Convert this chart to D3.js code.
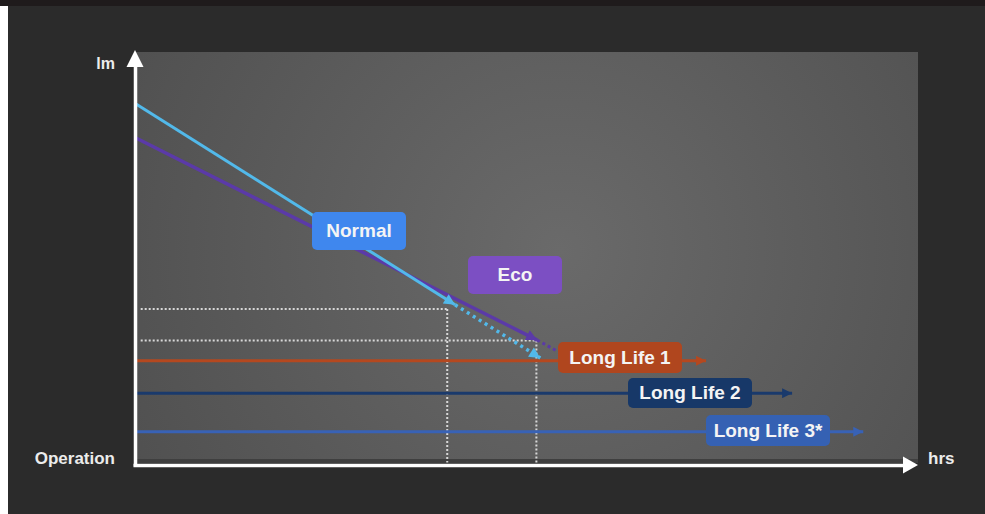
<!DOCTYPE html>
<html><head><meta charset="utf-8">
<script src="https://cdn.jsdelivr.net/npm/d3@7"></script>
<style>
html,body{margin:0;padding:0;background:#2b2b2b;overflow:hidden;}
svg{display:block;}
</style></head>
<body>
<svg id="c" width="985" height="514"></svg>
<script>
// ---- data (arbitrary units: hrs on x, lm on y) ----
const seriesNames = ["Normal", "Eco", "Long Life 1", "Long Life 2", "Long Life 3*"];
const normalSolid = [[0, 87.0], [40.8, 38.6]];
const normalDotted = [[40.8, 38.6], [51.7, 25.8]];
const ecoSolid = [[0, 78.8], [51.3, 30.1]];
const ecoDotted = [[51.3, 30.1], [53.8, 27.5]];
const longLifeLevels = [25.1, 17.3, 8.0];
const longLifeEnds = [72.9, 83.9, 93.0];
const guideX = [39.8, 51.2];
const guideY = [37.6, 30.0];
const axisLabels = {y: "lm", x: "hrs", origin: "Operation"};

// ---- layout ----
const W = 985, H = 514;
const svg = d3.select("#c");
const x = d3.scaleLinear().domain([0, 100]).range([136, 918]);
const y = d3.scaleLinear().domain([0, 100]).range([465, 50]);

const colors = {
  normal: "#52b9ea", eco: "#5b3aa8",
  ll: ["#b5481f", "#1a3a6c", "#3862b6"],
  box: ["#3f87ee", "#7c4fc3", "#b0461e", "#173868", "#3561b3"]
};

// background
svg.append("rect").attr("x", 0).attr("y", 0).attr("width", W).attr("height", H).attr("fill", "#2b2b2b");
svg.append("rect").attr("x", 0).attr("y", 6).attr("width", 8).attr("height", H - 6).attr("fill", "#ffffff");
svg.append("rect").attr("x", 0).attr("y", 0).attr("width", W).attr("height", 6).attr("fill", "#1f1b1c");

const defs = svg.append("defs");
const rg = defs.append("radialGradient").attr("id", "bg")
  .attr("gradientUnits", "userSpaceOnUse").attr("cx", 560).attr("cy", 250).attr("r", 520);
rg.append("stop").attr("offset", "0%").attr("stop-color", "#6a6a6a");
rg.append("stop").attr("offset", "60%").attr("stop-color", "#595959");
rg.append("stop").attr("offset", "100%").attr("stop-color", "#4e4e4e");

svg.append("rect").attr("x", 136).attr("y", 52).attr("width", 918 - 136).attr("height", 463 - 52)
  .attr("fill", "url(#bg)");
svg.append("rect").attr("x", 136).attr("y", 459).attr("width", 918 - 136).attr("height", 4)
  .attr("fill", "#3f3f3f");

// arrow markers
function marker(id, color, w, h) {
  defs.append("marker").attr("id", id).attr("viewBox", "0 0 10 10")
    .attr("refX", 10).attr("refY", 5).attr("markerUnits", "userSpaceOnUse")
    .attr("markerWidth", w).attr("markerHeight", h).attr("orient", "auto")
    .append("path").attr("d", "M0,0 L10,5 L0,10 Z").attr("fill", color);
}
marker("mN", colors.normal, 15, 11);
marker("mE", colors.eco, 15, 11);
colors.ll.forEach((c, i) => marker("mL" + i, c, 13, 10));

const line = d3.line().x(d => x(d[0])).y(d => y(d[1]));

// guide dotted lines
const g = svg.append("g");
guideX.forEach((gx, i) => {
  g.append("path").attr("d", line([[0.6, guideY[i]], [gx, guideY[i]]]))
    .attr("stroke", "#d8d8d8").attr("stroke-width", 2).attr("stroke-dasharray", "2,2").attr("fill", "none");
  g.append("path").attr("d", line([[gx, guideY[i]], [gx, 0.6]]))
    .attr("stroke", "#d8d8d8").attr("stroke-width", 2).attr("stroke-dasharray", "2,2").attr("fill", "none");
});

// long life lines
longLifeLevels.forEach((lv, i) => {
  svg.append("path").attr("d", line([[0, lv], [longLifeEnds[i], lv]]))
    .attr("stroke", colors.ll[i]).attr("stroke-width", 3).attr("fill", "none")
    .attr("marker-end", "url(#mL" + i + ")");
});

// eco
svg.append("path").attr("d", line(ecoSolid)).attr("stroke", colors.eco).attr("stroke-width", 3.5)
  .attr("fill", "none").attr("marker-end", "url(#mE)");
svg.append("path").attr("d", line(ecoDotted)).attr("stroke", colors.eco).attr("stroke-width", 3)
  .attr("stroke-dasharray", "3,3").attr("fill", "none");

// normal
svg.append("path").attr("d", line(normalSolid)).attr("stroke", colors.normal).attr("stroke-width", 3)
  .attr("fill", "none").attr("marker-end", "url(#mN)");
svg.append("path").attr("d", line(normalDotted)).attr("stroke", colors.normal).attr("stroke-width", 3.5)
  .attr("stroke-dasharray", "3,4").attr("fill", "none").attr("marker-end", "url(#mN)");

// label boxes (pixel layout)
const labelLayout = [
  {x0: 312, y0: 212, w: 94, h: 38},
  {x0: 468, y0: 256, w: 94, h: 38},
  {x0: 558, y0: 342, w: 124, h: 31},
  {x0: 628, y0: 378, w: 124, h: 30},
  {x0: 706, y0: 415, w: 124, h: 31}
];
seriesNames.forEach((name, i) => {
  const L = labelLayout[i];
  svg.append("rect").attr("x", L.x0).attr("y", L.y0).attr("width", L.w).attr("height", L.h)
    .attr("rx", 5).attr("fill", colors.box[i]);
  svg.append("text").attr("x", L.x0 + L.w / 2).attr("y", L.y0 + L.h / 2 + 1)
    .attr("text-anchor", "middle").attr("dominant-baseline", "middle")
    .attr("font-family", "Liberation Sans, Arial, sans-serif").attr("font-weight", "bold")
    .attr("font-size", 19).attr("fill", "#f4f4f4").text(name);
});

// axes
const xAxis = d3.axisBottom(x).tickValues([]).tickSizeOuter(0);
const yAxis = d3.axisLeft(y).tickValues([]).tickSizeOuter(0);
const xScaleAxis = d3.scaleLinear().domain([0, 100]).range([133, 905]);
const yScaleAxis = d3.scaleLinear().domain([0, 100]).range([466, 64]);
svg.append("g").attr("transform", "translate(0,465)").call(d3.axisBottom(xScaleAxis).tickValues([]).tickSizeOuter(0))
  .select(".domain").attr("stroke", "#ffffff").attr("stroke-width", 3.5);
svg.append("g").attr("transform", "translate(135,0)").call(d3.axisLeft(yScaleAxis).tickValues([]).tickSizeOuter(0))
  .select(".domain").attr("stroke", "#ffffff").attr("stroke-width", 3.5);
svg.append("path").attr("d", "M903,456.5 L918,465 L903,473.5 Z").attr("fill", "#ffffff");
svg.append("path").attr("d", "M126.5,67 L135,50 L143.5,67 Z").attr("fill", "#ffffff");

const tf = "Liberation Sans, Arial, sans-serif";
svg.append("text").attr("x", 115).attr("y", 69).attr("text-anchor", "end")
  .attr("font-family", tf).attr("font-weight", "bold").attr("font-size", 16).attr("fill", "#ececec").text(axisLabels.y);
svg.append("text").attr("x", 115).attr("y", 464).attr("text-anchor", "end")
  .attr("font-family", tf).attr("font-weight", "bold").attr("font-size", 17).attr("fill", "#ececec").text(axisLabels.origin);
svg.append("text").attr("x", 928).attr("y", 464).attr("text-anchor", "start")
  .attr("font-family", tf).attr("font-weight", "bold").attr("font-size", 17).attr("fill", "#ececec").text(axisLabels.x);
</script>
</body></html>
